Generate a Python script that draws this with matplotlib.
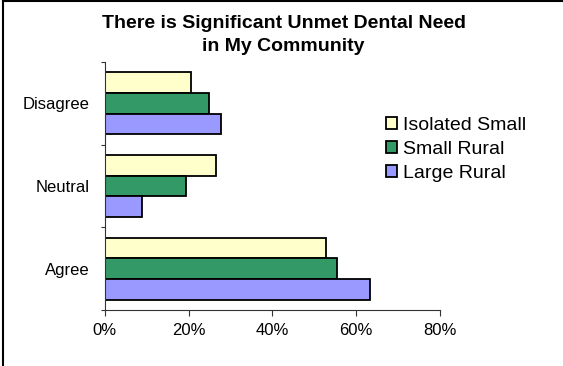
import numpy as np
import matplotlib
matplotlib.use("Agg")
import matplotlib.pyplot as plt
from matplotlib.lines import Line2D
from matplotlib.ticker import FuncFormatter

plt.rcParams['font.family'] = ['Liberation Sans', 'DejaVu Sans']

# survey responses, bottom to top
categories = ['Agree', 'Neutral', 'Disagree']
series_names = ['Isolated Small', 'Small Rural', 'Large Rural']
isolated_small = [52.8, 26.5, 20.5]
small_rural = [55.4, 19.5, 24.9]
large_rural = [63.4, 8.8, 27.7]
x_ticks = [0, 20, 40, 60, 80]

colors = ['#FFFFCC', '#339966', '#9999FF']
values = [isolated_small, small_rural, large_rural]
offsets = [0.25, 0.0, -0.25]

fig = plt.figure(figsize=(5.63, 3.66), dpi=100)
ax = fig.add_axes([0.186, 0.153, 0.5955, 0.6776])

y = np.arange(len(categories))
for vals, off, col, name in zip(values, offsets, colors, series_names):
    ax.barh(y + off, vals, height=0.25, color=col, edgecolor='black',
            linewidth=1.3, label=name)

ax.set_xlim(0, 80)
ax.set_ylim(-0.5, 2.5)
ax.set_xticks(x_ticks)
ax.xaxis.set_major_formatter(FuncFormatter(lambda v, p: '%d%%' % v))
ax.set_yticks(y)
ax.set_yticklabels(categories)
ax.set_yticks([-0.5, 0.5, 1.5, 2.5], minor=True)

ax.tick_params(axis='x', length=4.5, width=0.8, color='#333333', labelsize=12, pad=5)
ax.tick_params(axis='y', which='major', length=0, labelsize=12, pad=11)
ax.tick_params(axis='y', which='minor', length=3, width=0.8, color='#333333')

for side in ['top', 'right']:
    ax.spines[side].set_visible(False)
for side in ['left', 'bottom']:
    ax.spines[side].set_color('#333333')
    ax.spines[side].set_linewidth(0.8)

fig.text(283.5 / 563, 1 - 35 / 366, 'There is Significant Unmet Dental Need\nin My Community',
         ha='center', va='center', fontsize=14, fontweight='bold', linespacing=1.4)

fig.legend(loc='upper left', bbox_to_anchor=(386 / 563, 1 - 117 / 366), frameon=False,
           fontsize=14, handlelength=0.57, handleheight=0.57, handletextpad=0.3,
           labelspacing=0.36, borderpad=0, borderaxespad=0)

# outer chart border: top and left edges
fig.add_artist(Line2D([2.5 / 563, 1], [1 - 1 / 366, 1 - 1 / 366], transform=fig.transFigure,
                      color='black', linewidth=1.5))
fig.add_artist(Line2D([2.5 / 563, 2.5 / 563], [0, 1 - 1 / 366], transform=fig.transFigure,
                      color='black', linewidth=1.5))

fig.savefig('out.png', dpi=100)
